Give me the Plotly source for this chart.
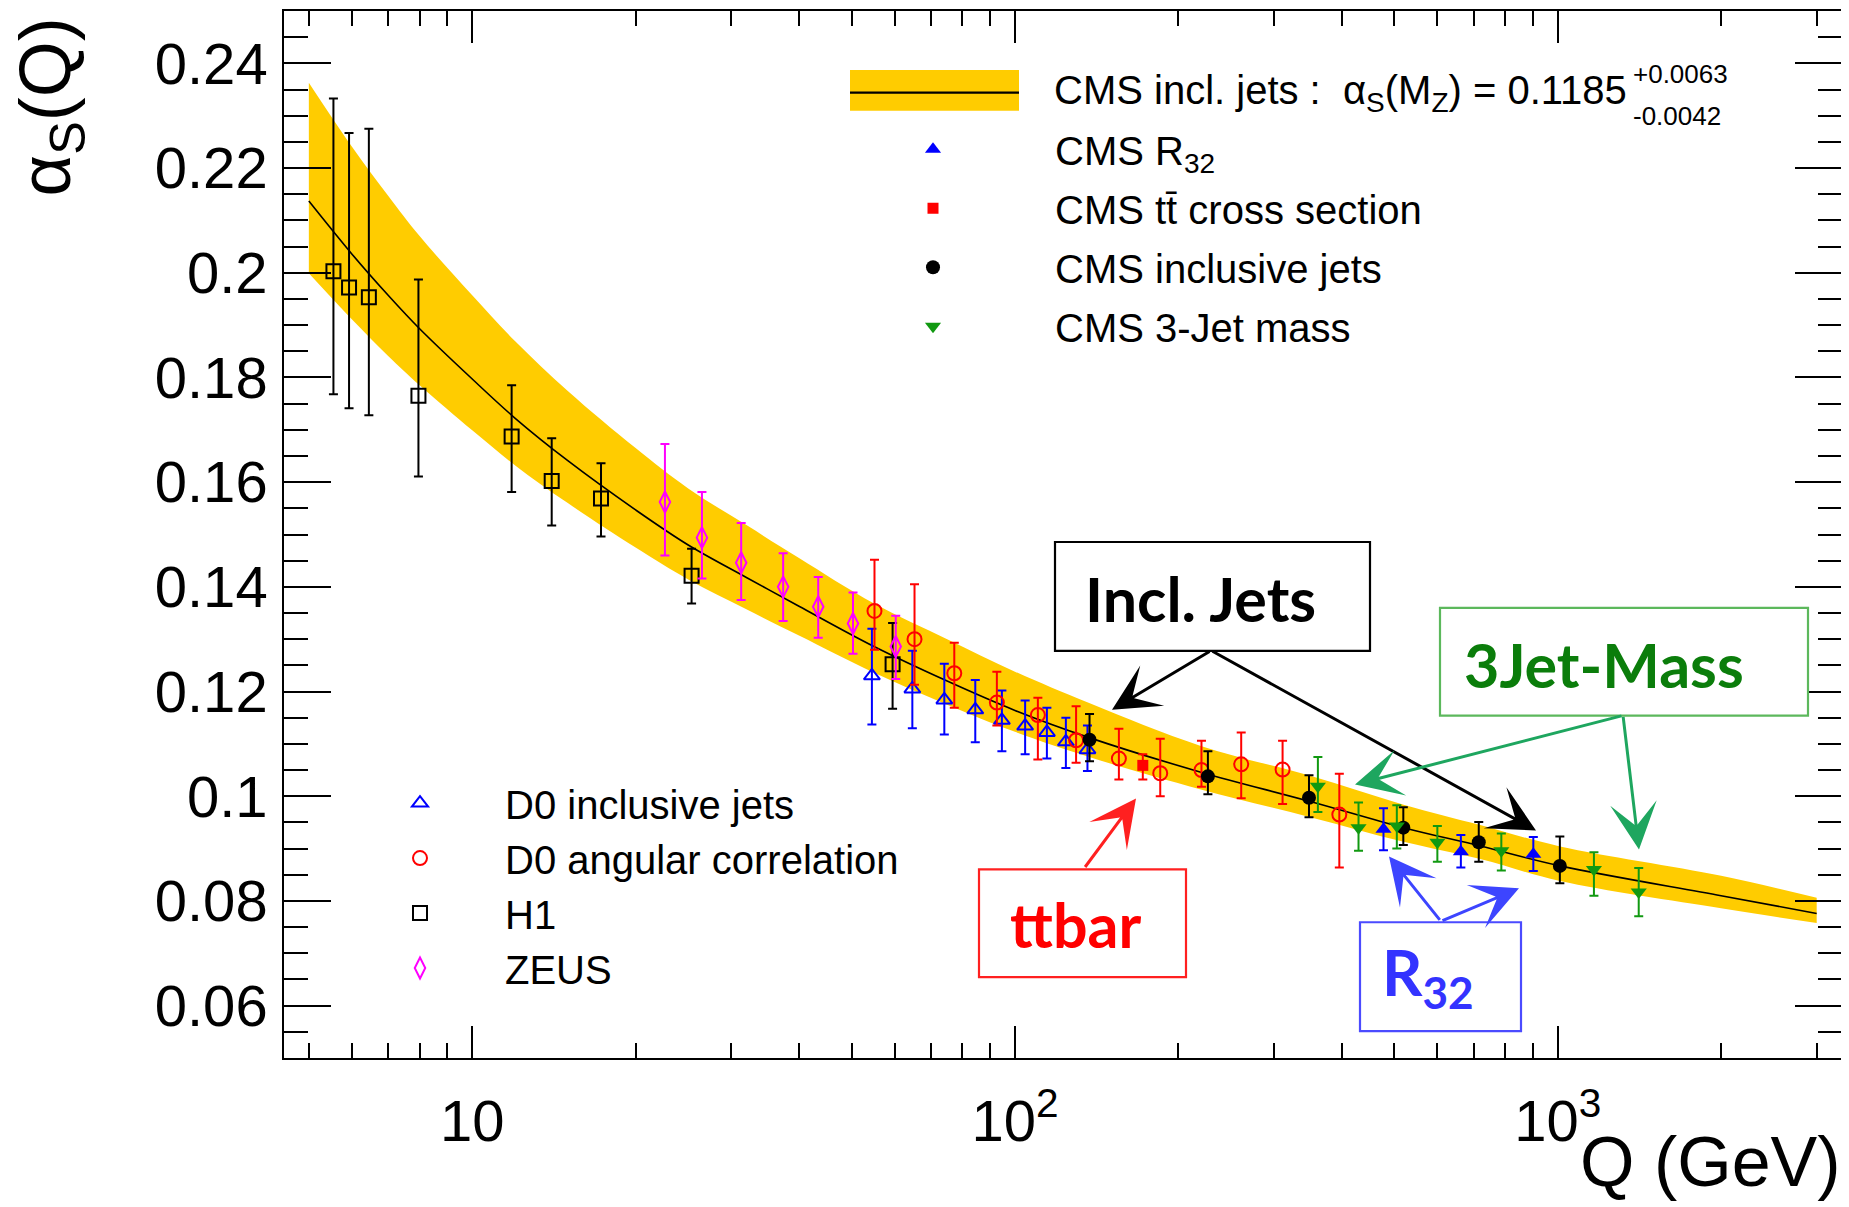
import math
import plotly.graph_objects as go

# ---------------- data ----------------
BAND_Q = [5, 6, 7, 8, 10, 12, 15, 20, 25, 32, 40, 55, 75, 100, 137, 220, 350, 520, 720, 1010, 2000, 3000]
BAND_UP = [0.2363, 0.2241, 0.2147, 0.2070, 0.1957, 0.1869, 0.1774, 0.1665, 0.1588, 0.1518, 0.1455, 0.1368, 0.1300,
           0.1238, 0.1178, 0.1096, 0.1039, 0.0984, 0.0945, 0.0904, 0.0848, 0.0806]
BAND_LO = [0.1999, 0.1911, 0.1841, 0.1785, 0.1699, 0.1632, 0.1560, 0.1475, 0.1414, 0.1357, 0.1307, 0.1236, 0.1175,
           0.1123, 0.1075, 0.1013, 0.0960, 0.0913, 0.0880, 0.0838, 0.0786, 0.0758]
CURVE_A = [0.2137, 0.2036, 0.1957, 0.1893, 0.1797, 0.1722, 0.1641, 0.1547, 0.1480, 0.1418, 0.1363, 0.1286, 0.1220,
           0.1164, 0.1112, 0.1046, 0.0990, 0.0940, 0.0905, 0.0867, 0.0810, 0.0776]

H1_Q = [5.55, 5.93, 6.45, 7.96, 11.82, 14.01, 17.27, 25.36, 59.5]
H1_A = [0.2003, 0.1972, 0.1953, 0.1765, 0.1687, 0.1602, 0.1569, 0.1421, 0.1252]
H1_UP = [0.0330, 0.0295, 0.0322, 0.0222, 0.0098, 0.0082, 0.0067, 0.0052, 0.0079]
H1_DN = [0.0235, 0.0231, 0.0225, 0.0154, 0.0106, 0.0085, 0.0073, 0.0053, 0.0085]

ZEUS_Q = [22.65, 26.5, 31.3, 37.4, 43.4, 50.3, 60.3]
ZEUS_A = [0.1562, 0.1494, 0.1446, 0.1400, 0.1362, 0.1330, 0.1286]
ZEUS_UP = [0.0111, 0.0087, 0.0076, 0.0064, 0.0057, 0.0059, 0.0059]
ZEUS_DN = [0.0102, 0.0078, 0.0071, 0.0065, 0.0059, 0.0058, 0.0062]

D0ANG_Q = [55.1, 65.3, 77.3, 92.6, 110.2, 129.6, 155.4, 185.2, 220.6, 261.1, 311.2, 395.9]
D0ANG_A = [0.1354, 0.1300, 0.1235, 0.1179, 0.1155, 0.1107, 0.1072, 0.1044, 0.1050, 0.1061, 0.1051, 0.0965]
D0ANG_UP = [0.0098, 0.0105, 0.0058, 0.0059, 0.0033, 0.0065, 0.0057, 0.0066, 0.0056, 0.0061, 0.0055, 0.0078]
D0ANG_DN = [0.0074, 0.0087, 0.0066, 0.0044, 0.0085, 0.0043, 0.0040, 0.0044, 0.0032, 0.0065, 0.0066, 0.0101]

D0INC_Q = [54.5, 64.7, 74.1, 84.5, 94.6, 104.4, 114.5, 124.1, 136.0]
D0INC_A = [0.1230, 0.1205, 0.1184, 0.1165, 0.1145, 0.1134, 0.1122, 0.1104, 0.1089]
D0INC_UP = [0.0090, 0.0073, 0.0069, 0.0057, 0.0057, 0.0049, 0.0047, 0.0046, 0.0046]
D0INC_DN = [0.0093, 0.0075, 0.0066, 0.0062, 0.0059, 0.0054, 0.0050, 0.0050, 0.0041]

TT_Q = [172.0]
TT_A = [0.1059]
TT_UP = [0.0021]
TT_DN = [0.0027]

CMSJ_Q = [137.2, 226.7, 348.1, 519.4, 715.3, 1009]
CMSJ_A = [0.1108, 0.1038, 0.0997, 0.0940, 0.0912, 0.0867]
CMSJ_UP = [0.0049, 0.0048, 0.0043, 0.0039, 0.0039, 0.0056]
CMSJ_DN = [0.0041, 0.0034, 0.0037, 0.0033, 0.0037, 0.0033]

R32_Q = [477.5, 663, 901.6]
R32_A = [0.0937, 0.0894, 0.0889]
R32_UP = [0.0040, 0.0032, 0.0033]
R32_DN = [0.0040, 0.0030, 0.0032]

M3J_Q = [361.5, 429.5, 505.3, 600.1, 787.2, 1166, 1410]
M3J_A = [0.1019, 0.0940, 0.0943, 0.0912, 0.0896, 0.0860, 0.0817]
M3J_UP = [0.0056, 0.0048, 0.0040, 0.0031, 0.0033, 0.0033, 0.0046]
M3J_DN = [0.0049, 0.0044, 0.0043, 0.0037, 0.0038, 0.0050, 0.0046]

X_TICKS = [10, 100, 1000]
X_TICK_TEXT = ["10", "10<sup>2</sup>", "10<sup>3</sup>"]
X_MINOR = [5, 6, 7, 8, 9, 20, 30, 40, 50, 60, 70, 80, 90, 200, 300, 400, 500, 600, 700, 800, 900, 2000, 3000]

# ---------------- layout geometry (page pixels) ----------------
W, H = 1849, 1207
BODY = 8                      # default page margin of the html body
L, R, T, B = 284, 1842, 9, 1058
FONT = "Liberation Sans"
BOLD = "Lato"


def px(x):
    return (x - L) / (R - L)


def py(y):
    return (B - y) / (B - T)


fig = go.Figure()

# band
fig.add_trace(go.Scatter(x=BAND_Q, y=BAND_LO, mode="lines", line=dict(width=0, color="#ffcc00", shape="spline"),
                         showlegend=False, hoverinfo="skip"))
fig.add_trace(go.Scatter(x=BAND_Q, y=BAND_UP, mode="lines", line=dict(width=0, color="#ffcc00", shape="spline"),
                         fill="tonexty", fillcolor="#ffcc00", showlegend=False, hoverinfo="skip"))
fig.add_trace(go.Scatter(x=BAND_Q, y=CURVE_A, mode="lines", line=dict(width=1.6, color="black", shape="spline"),
                         showlegend=False, hoverinfo="skip"))


def series(q, a, up, dn, name, symbol, color, size, legend, rank, lw=2, ew=2, cap=4.5):
    fig.add_trace(go.Scatter(
        x=q, y=a, mode="markers", name=name, legend=legend, legendrank=rank, legendgroup=name,
        marker=dict(symbol=symbol, color=color, size=size, line=dict(color=color, width=lw)),
        error_y=dict(type="data", symmetric=False, array=up, arrayminus=dn, color=color, thickness=ew, width=cap),
    ))


series(H1_Q, H1_A, H1_UP, H1_DN, "H1", "square-open", "black", 14, "legend2", 3)
series(ZEUS_Q, ZEUS_A, ZEUS_UP, ZEUS_DN, "ZEUS", "diamond-tall-open", "#ff00ff", 15, "legend2", 4)
series(D0INC_Q, D0INC_A, D0INC_UP, D0INC_DN, "D0 inclusive jets", "triangle-up-open", "#0000ff", 14, "legend2", 1)
series(D0ANG_Q, D0ANG_A, D0ANG_UP, D0ANG_DN, "D0 angular correlation", "circle-open", "#ff0000", 14, "legend2", 2)
series(TT_Q, TT_A, TT_UP, TT_DN, "CMS tt\u0304 cross section", "square", "#ff0000", 11, "legend", 2, lw=0)
series(CMSJ_Q, CMSJ_A, CMSJ_UP, CMSJ_DN, "CMS inclusive jets", "circle", "black", 14, "legend", 3, lw=0)
series(R32_Q, R32_A, R32_UP, R32_DN, "CMS R<sub>32</sub>", "triangle-up", "#0000ff", 14, "legend", 1, lw=0)
series(M3J_Q, M3J_A, M3J_UP, M3J_DN, "CMS 3-Jet mass", "triangle-down", "#119911", 14, "legend", 4, lw=0)

axis_common = dict(showline=True, linecolor="black", linewidth=1.5, mirror="ticks", ticks="inside",
                   tickcolor="black", tickwidth=1.5, showgrid=False, zeroline=False,
                   tickfont=dict(family=FONT, size=58, color="black"))

fig.update_xaxes(type="log", range=[math.log10(4.5), math.log10(3340)], tickmode="array",
                 tickvals=X_TICKS, ticktext=X_TICK_TEXT, ticklen=32, ticklabelstandoff=12,
                 minor=dict(ticks="inside", ticklen=15, tickwidth=1.5, tickcolor="black",
                            tickmode="array", tickvals=X_MINOR, showgrid=False),
                 **axis_common)
fig.update_yaxes(range=[0.05, 0.25], tick0=0, dtick=0.02, ticklen=47, ticklabelstandoff=3,
                 minor=dict(ticks="inside", ticklen=24, tickwidth=1.5, tickcolor="black", dtick=0.005, tick0=0,
                            showgrid=False),
                 **axis_common)

shapes = []
annotations = []

# legend swatch for band
shapes.append(dict(type="rect", xref="paper", yref="paper", x0=px(850), x1=px(1019), y0=py(109), y1=py(68),
                   fillcolor="#ffcc00", line=dict(width=0), layer="above"))
shapes.append(dict(type="line", xref="paper", yref="paper", x0=px(850), x1=px(1019), y0=py(90.8), y1=py(90.8),
                   line=dict(color="black", width=2.2), layer="above"))
annotations.append(dict(xref="paper", yref="paper", x=px(1052), y=py(91), xanchor="left", yanchor="middle",
                        text="CMS incl. jets :\u00a0\u00a0\u03b1<sub>S</sub>(M<sub>Z</sub>) = 0.1185",
                        showarrow=False, font=dict(family=FONT, size=40, color="black")))
annotations.append(dict(xref="paper", yref="paper", x=px(1631), y=py(72), xanchor="left", yanchor="middle",
                        text="+0.0063", showarrow=False, font=dict(family=FONT, size=26, color="black")))
annotations.append(dict(xref="paper", yref="paper", x=px(1631), y=py(114), xanchor="left", yanchor="middle",
                        text="-0.0042", showarrow=False, font=dict(family=FONT, size=26, color="black")))

# axis titles
annotations.append(dict(xref="paper", yref="paper", x=px(50), y=py(14), xanchor="center", yanchor="top",
                        text="\u03b1<sub>S</sub>(Q)", textangle=-90, showarrow=False,
                        font=dict(family=FONT, size=72, color="black")))
annotations.append(dict(xref="paper", yref="paper", x=px(1843), y=py(1203), xanchor="right", yanchor="bottom",
                        text="Q (GeV)", showarrow=False, font=dict(family=FONT, size=70, color="black")))


def box(x0, y0, x1, y1, color):
    shapes.append(dict(type="rect", xref="paper", yref="paper", x0=px(x0), x1=px(x1), y0=py(y1), y1=py(y0),
                       line=dict(color=color, width=2.2), fillcolor="white", layer="above"))


def label(x, y, text, color, size=60):
    annotations.append(dict(xref="paper", yref="paper", x=px(x), y=py(y), xanchor="center", yanchor="middle",
                            text=text, showarrow=False,
                            font=dict(family=BOLD, size=size, color=color, weight="bold")))


def arrow(x0, y0, x1, y1, color):
    annotations.append(dict(xref="paper", yref="paper", x=px(x1), y=py(y1), axref="pixel", ayref="pixel",
                            ax=x0 - x1, ay=y0 - y1, text="", showarrow=True, arrowhead=3, arrowsize=2.6,
                            arrowwidth=3, arrowcolor=color))


box(1055, 541, 1370, 650, "black")
label(1200, 598, "Incl. Jets", "black", 61)
arrow(1211, 650, 1112, 709, "black")
arrow(1211, 650, 1536, 830, "black")

box(1440, 607, 1808, 715, "#5cb85c")
label(1604, 664, "3Jet-Mass", "#0b7d0b", 61)
arrow(1623, 715, 1355, 784, "#1ea65f")
arrow(1623, 715, 1639, 849, "#1ea65f")

box(979, 869, 1186, 977, "#ff2020")
label(1075, 924, "ttbar", "#ff0000", 61)
arrow(1084, 868, 1136, 798, "#ff2020")

box(1360, 922, 1521, 1031, "#4b4bff")
label(1428, 976, "R<sub>32</sub>", "#3333ff", 63)
arrow(1441, 921, 1389, 856, "#3d45ff")
arrow(1441, 921, 1519, 888, "#3d45ff")

# the html body keeps its default 8px margin, so the figure is shifted by it
fig.update_layout(
    width=W - BODY, height=H - BODY, autosize=False,
    margin=dict(l=L - BODY, r=W - R, t=T - BODY, b=H - B, pad=0),
    plot_bgcolor="white", paper_bgcolor="white",
    font=dict(family=FONT, color="black"),
    shapes=shapes, annotations=annotations,
    legend=dict(x=px(811), y=py(115), xanchor="left", yanchor="top", bgcolor="rgba(0,0,0,0)", borderwidth=0,
                font=dict(family=FONT, size=40, color="black"), itemwidth=234, tracegroupgap=4,
                itemsizing="trace"),
    legend2=dict(x=px(335), y=py(770), xanchor="left", yanchor="top", bgcolor="rgba(0,0,0,0)", borderwidth=0,
                 font=dict(family=FONT, size=40, color="black"), itemwidth=160, tracegroupgap=0,
                 itemsizing="trace"),
)

fig.write_html("out.html")
